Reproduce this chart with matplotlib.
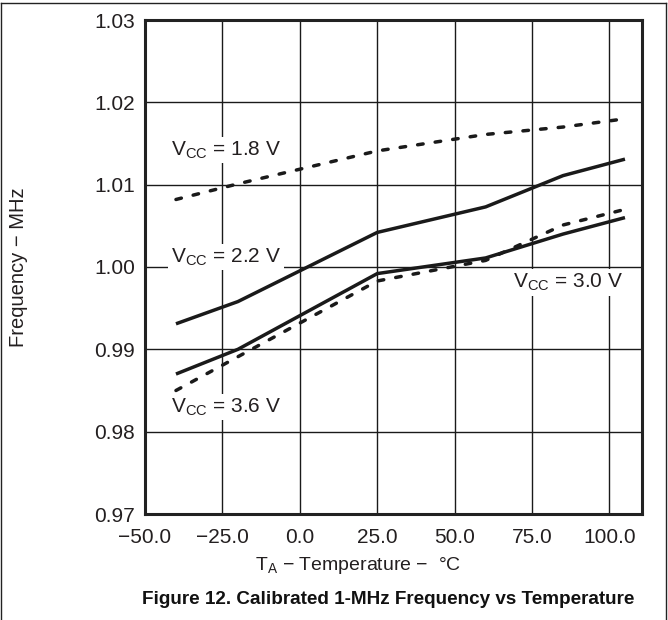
import matplotlib
matplotlib.use("Agg")
import matplotlib.pyplot as plt
from matplotlib.lines import Line2D

plt.rcParams['font.family'] = ['Liberation Sans', 'DejaVu Sans']
plt.rcParams['mathtext.fontset'] = 'custom'
plt.rcParams['mathtext.rm'] = 'Liberation Sans'
plt.rcParams['mathtext.it'] = 'Liberation Sans'

temps = [-40, -20, 25, 60, 85, 105]
vcc_18 = [1.0082, 1.0101, 1.0141, 1.0161, 1.0170, 1.0180]
vcc_22 = [0.9931, 0.9958, 1.0042, 1.0073, 1.0111, 1.0131]
vcc_30 = [0.9870, 0.9900, 0.9992, 1.0011, 1.0040, 1.0060]
vcc_36 = [0.9850, 0.9891, 0.9983, 1.0008, 1.0051, 1.0070]

xticks = [-50, -25, 0, 25, 50, 75, 100]
xtick_labels = ['\u221250.0', '\u221225.0', '0.0', '25.0', '50.0', '75.0', '100.0']
yticks = [0.97, 0.98, 0.99, 1.00, 1.01, 1.02, 1.03]
ytick_labels = ['0.97', '0.98', '0.99', '1.00', '1.01', '1.02', '1.03']

TXT = '#231f20'

fig = plt.figure(figsize=(6.68, 6.2), dpi=100)
ax = fig.add_axes([145/668, 1-514/620, (642-145)/668, (514-20)/620])

lw = 2.5
dash = (0, (1.6, 3.5))
ax.plot(temps, vcc_18, color='#1a1a1a', lw=lw, linestyle=dash, dash_capstyle='round', zorder=3)
ax.plot(temps, vcc_22, color='#1a1a1a', lw=lw, solid_capstyle='butt', zorder=3)
ax.plot(temps, vcc_30, color='#1a1a1a', lw=lw, solid_capstyle='butt', zorder=3)
ax.plot(temps, vcc_36, color='#1a1a1a', lw=lw, linestyle=dash, dash_capstyle='round', zorder=3)

ax.set_xlim(-50, 110.5)
ax.set_ylim(0.97, 1.03)
ax.set_xticks(xticks)
ax.set_xticklabels(xtick_labels)
ax.set_yticks(yticks)
ax.set_yticklabels(ytick_labels)
ax.tick_params(length=0, labelsize=15, colors=TXT)
ax.tick_params(axis='x', pad=10)
ax.tick_params(axis='y', pad=7)
ax.grid(True, color='#1a1a1a', lw=1.0)
ax.set_axisbelow(True)
for s in ax.spines.values():
    s.set_linewidth(2.2)
    s.set_color('#222222')

box = dict(facecolor='white', edgecolor='none', pad=2)
tk = dict(fontsize=15, color=TXT, va='center', ha='left', zorder=2, bbox=box)
ax.text(-41.7, 1.0142, r'V$_{\mathregular{CC}}$ = 1.8 V', **tk)
ax.text(-41.7, 1.0012, r'V$_{\mathregular{CC}}$ = 2.2 V', **tk)
ax.text(69.0, 0.9981, r'V$_{\mathregular{CC}}$ = 3.0 V', **tk)
ax.text(-41.7, 0.9830, r'V$_{\mathregular{CC}}$ = 3.6 V', **tk)

fig.text(19/668, 1-267/620, 'Frequency \u2212 MHz', rotation=90, ha='center', va='center',
         fontsize=14.5, color=TXT)
fig.text(358/668, 1-566/620, 'T$_{\\mathregular{A}}$ \u2212 Temperature \u2212  \u00b0C',
         ha='center', va='center', fontsize=14, color=TXT)
fig.text(388/668, 1-599/620, 'Figure 12. Calibrated 1-MHz Frequency vs Temperature',
         ha='center', va='center', fontsize=13.6, fontweight='bold', color='#111111')

for xs, ys in [([1/668, 1/668], [0, 1-3/620]), ([666/668, 666/668], [0, 1-3/620]),
               ([1/668, 666/668], [1-3/620, 1-3/620])]:
    fig.add_artist(Line2D(xs, ys, color='#222222', lw=1.0, transform=fig.transFigure))

fig.savefig('out.png', dpi=100)
